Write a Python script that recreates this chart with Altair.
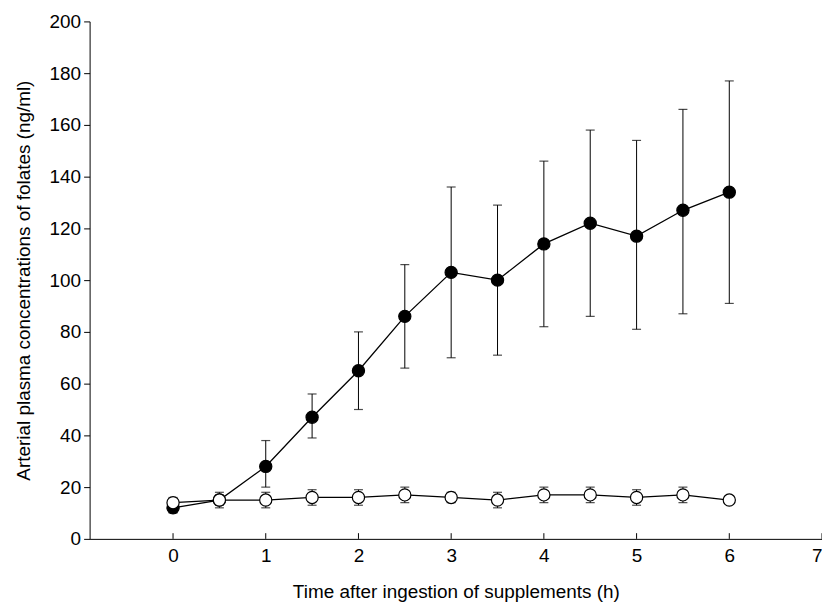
import altair as alt
import pandas as pd

time = [0, 0.5, 1, 1.5, 2, 2.5, 3, 3.5, 4, 4.5, 5, 5.5, 6]
filled = [12, 15, 28, 47, 65, 86, 103, 100, 114, 122, 117, 127, 134]
filled_lo = [10, 13, 20, 39, 50, 66, 70, 71, 82, 86, 81, 87, 91]
filled_hi = [14, 17, 38, 56, 80, 106, 136, 129, 146, 158, 154, 166, 177]
open_ = [14, 15, 15, 16, 16, 17, 16, 15, 17, 17, 16, 17, 15]
open_lo = [12, 12, 12, 13, 13, 14, 14, 12, 14, 14, 13, 14, 14]
open_hi = [16, 18, 18, 19, 19, 20, 18, 18, 20, 20, 19, 20, 16]
xticks = [0, 1, 2, 3, 4, 5, 6, 7]

df = pd.DataFrame({"t": time * 2,
                   "v": filled + open_,
                   "lo": filled_lo + open_lo,
                   "hi": filled_hi + open_hi,
                   "s": ["filled"] * 13 + ["open"] * 13})
tdf = pd.DataFrame({"t": xticks, "v": [0] * len(xticks)})

x = alt.X("t:Q", scale=alt.Scale(domain=[-0.9, 7], nice=False),
          axis=alt.Axis(values=xticks, format="d", title="Time after ingestion of supplements (h)",
                        titlePadding=17, grid=False, ticks=False, labelPadding=8))
y = alt.Y("v:Q", scale=alt.Scale(domain=[0, 200], nice=False),
          axis=alt.Axis(values=list(range(0, 201, 20)), title="Arterial plasma concentrations of folates (ng/ml)",
                        grid=False, titlePadding=16, tickSize=6, labelPadding=3))

base = alt.Chart(df)
lines = base.mark_line(color="black", strokeWidth=1.3).encode(x=x, y=y, detail="s:N")
rules = base.mark_rule(color="black", strokeWidth=1).encode(x="t:Q", y="lo:Q", y2="hi:Q")
caps_hi = base.mark_tick(color="black", width=9, thickness=1.2, orient="horizontal").encode(x="t:Q", y="hi:Q")
caps_lo = base.mark_tick(color="black", width=9, thickness=1.2, orient="horizontal").encode(x="t:Q", y="lo:Q")
pts = base.mark_point(filled=True, size=150, stroke="black", strokeWidth=1.2, opacity=1).encode(
    x="t:Q", y="v:Q",
    fill=alt.Fill("s:N", scale=alt.Scale(domain=["filled", "open"], range=["black", "white"]), legend=None))
xt = alt.Chart(tdf).mark_rule(color="black", strokeWidth=1).encode(
    x="t:Q", y="v:Q", y2=alt.Y2Datum(2.2))

chart = alt.layer(lines, rules, caps_hi, caps_lo, pts, xt).properties(
    width=736, height=520,
    autosize=alt.AutoSizeParams(type="none"),
    padding={"left": 82, "top": 12, "right": 0, "bottom": 70},
).configure_view(stroke=None).configure_axis(
    domainColor="black", tickColor="black", labelColor="black", titleColor="black",
    labelFont="Liberation Sans", titleFont="Liberation Sans", labelFontSize=19, titleFontSize=19,
    titleFontWeight="normal"
)
chart.save("out.html", embed_options={"renderer": "svg", "actions": False})
